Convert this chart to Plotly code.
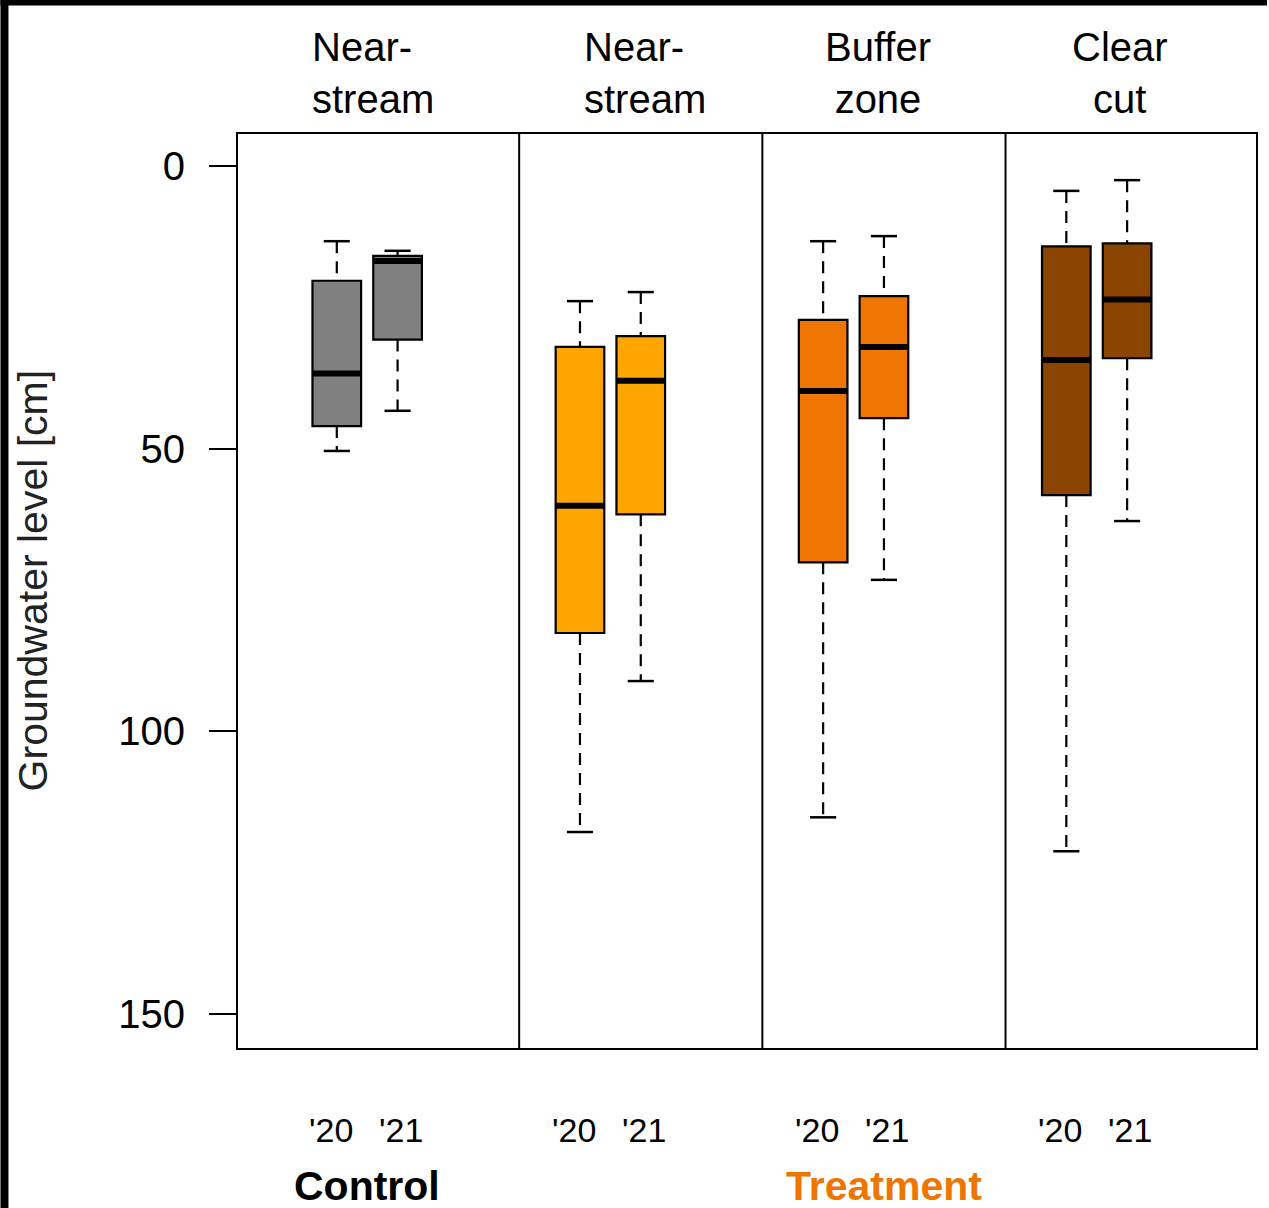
import plotly.graph_objects as go

# ---- data ----
positions = [1, 2, 5, 6, 9, 10, 13, 14]
year_labels = ["'20", "'21", "'20", "'21", "'20", "'21", "'20", "'21"]
box_colors = ["#808080", "#808080", "#FFA500", "#FFA500",
              "#EE7600", "#EE7600", "#8B4500", "#8B4500"]
whisker_top = [13.3, 15.0, 23.9, 22.3, 13.3, 12.4, 4.4, 2.5]
q1 = [20.3, 15.9, 32.0, 30.1, 27.2, 23.0, 14.2, 13.7]
median = [36.7, 16.8, 60.1, 38.0, 39.8, 32.0, 34.3, 23.6]
q3 = [46.0, 30.7, 82.6, 61.6, 70.1, 44.6, 58.2, 34.0]
whisker_bottom = [50.4, 43.3, 117.8, 91.1, 115.2, 73.2, 121.2, 62.8]

panel_titles = ["Near-<br>stream", "Near-<br>stream", "Buffer<br>zone", "Clear<br>cut"]
panel_title_x = [1.59, 6.07, 9.91, 13.89]
panel_title_align = ["left", "left", "center", "center"]
dividers = [4, 8, 12]
group_labels = ["Control", "Treatment"]
group_label_x = [1.5, 10.0]
group_label_colors = ["#000000", "#EE7600"]
y_ticks = [0, 50, 100, 150]

BOX_W = 0.8
CAP_W = 0.43
FONT = "Liberation Sans, Arial, sans-serif"

# figure geometry
W, H = 1269, 1208
ML, MR, MT, MB = 238, 11, 134, 160
PW = W - ML - MR
PH = H - MT - MB

fig = go.Figure()

for i, p in enumerate(positions):
    fig.add_trace(go.Box(
        x=[p], q1=[q1[i]], median=[median[i]], q3=[q3[i]],
        lowerfence=[q1[i]], upperfence=[q3[i]],
        width=BOX_W, fillcolor=box_colors[i], orientation="v",
        line=dict(color="black", width=2.2),
        whiskerwidth=0, boxpoints=False, showlegend=False, hoverinfo="skip",
    ))

# dashed whiskers
wx, wy = [], []
for i, p in enumerate(positions):
    wx += [p, p, None, p, p, None]
    wy += [whisker_top[i], q1[i], None, q3[i], whisker_bottom[i], None]
fig.add_trace(go.Scatter(x=wx, y=wy, mode="lines",
                         line=dict(color="black", width=2.2, dash="12px,8px"),
                         showlegend=False, hoverinfo="skip"))

# caps
cx, cy = [], []
for i, p in enumerate(positions):
    for v in (whisker_top[i], whisker_bottom[i]):
        cx += [p - CAP_W / 2, p + CAP_W / 2, None]
        cy += [v, v, None]
fig.add_trace(go.Scatter(x=cx, y=cy, mode="lines",
                         line=dict(color="black", width=2.5),
                         showlegend=False, hoverinfo="skip"))

# thick medians
mx, my = [], []
for i, p in enumerate(positions):
    mx += [p - BOX_W / 2, p + BOX_W / 2, None]
    my += [median[i], median[i], None]
fig.add_trace(go.Scatter(x=mx, y=my, mode="lines",
                         line=dict(color="black", width=6),
                         showlegend=False, hoverinfo="skip"))

shapes = []
for d in dividers:
    shapes.append(dict(type="line", xref="x", yref="paper", x0=d, x1=d, y0=0, y1=1,
                       line=dict(color="black", width=2)))

# black border bands of the reference picture
def px_x(px):
    return (px - ML) / PW

def px_y(py):
    return (H - MB - py) / PH

shapes.append(dict(type="rect", xref="paper", yref="paper",
                   x0=px_x(0), x1=px_x(8), y0=px_y(H), y1=px_y(0),
                   fillcolor="black", line=dict(width=0), layer="above"))
shapes.append(dict(type="rect", xref="paper", yref="paper",
                   x0=px_x(0), x1=px_x(W), y0=px_y(5.5), y1=px_y(0),
                   fillcolor="black", line=dict(width=0), layer="above"))

annotations = []
for t, x, a in zip(panel_titles, panel_title_x, panel_title_align):
    annotations.append(dict(text=t, x=x, xref="x", y=px_y(73), yref="paper",
                            xanchor="center", yanchor="middle", align=a, showarrow=False,
                            font=dict(family=FONT, size=40, color="black")))
for i, p in enumerate(positions):
    annotations.append(dict(text=year_labels[i], x=p, xref="x", y=px_y(1130), yref="paper",
                            xanchor="center", yanchor="middle", showarrow=False,
                            xshift=-6 if i % 2 == 0 else 3,
                            font=dict(family=FONT, size=34, color="black")))
for t, x, c in zip(group_labels, group_label_x, group_label_colors):
    annotations.append(dict(text="<b>" + t + "</b>", x=x, xref="x", y=px_y(1186), yref="paper",
                            xanchor="center", yanchor="middle", showarrow=False,
                            height=40, valign="middle",
                            font=dict(family=FONT, size=41, color=c)))
annotations.append(dict(text="Groundwater level [cm]", textangle=-90,
                        x=px_x(33), xref="paper", y=px_y(580), yref="paper",
                        xanchor="center", yanchor="middle", showarrow=False,
                        font=dict(family=FONT, size=41, color="#222222")))

fig.update_layout(
    width=W, height=H,
    margin=dict(l=ML, r=MR, t=MT, b=MB, pad=0),
    paper_bgcolor="white", plot_bgcolor="white",
    boxmode="overlay",
    shapes=shapes, annotations=annotations,
    xaxis=dict(range=[-0.625, 16.12], showgrid=False, zeroline=False,
               showline=True, mirror=True, linecolor="black", linewidth=2,
               ticks="", showticklabels=False),
    yaxis=dict(range=[156.0, -5.66], showgrid=False, zeroline=False,
               showline=True, mirror=True, linecolor="black", linewidth=2,
               tickvals=y_ticks, ticks="outside", ticklen=27, tickwidth=2,
               tickcolor="black", ticklabelstandoff=16,
               tickfont=dict(family=FONT, size=40, color="black")),
)

fig.write_html("out.html")
